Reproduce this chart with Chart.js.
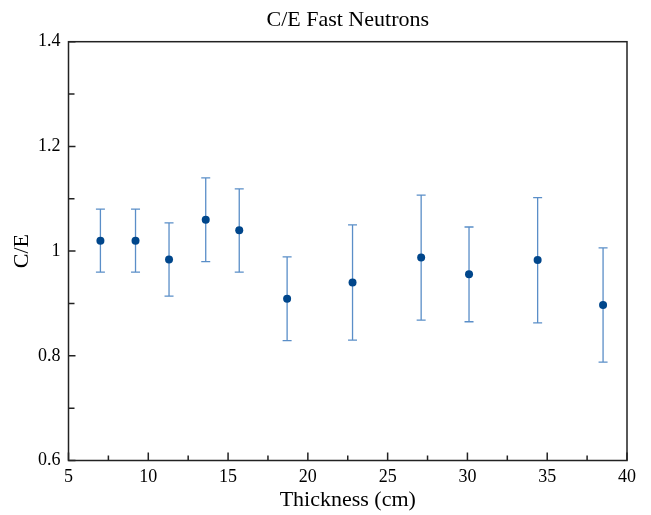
<!DOCTYPE html>
<html>
<head>
<meta charset="utf-8">
<script src="https://cdn.jsdelivr.net/npm/chart.js@4"></script>
<style>
  html, body { margin: 0; padding: 0; background: #fff; }
  #wrap { width: 651px; height: 515px; }
</style>
</head>
<body>
<div id="wrap"><canvas id="ceChart" width="651" height="515"></canvas></div>
<script>
// values
const thickness = [7.0, 9.2, 11.3, 13.6, 15.7, 18.7, 22.8, 27.1, 30.1, 34.4, 38.5];
const ceRatio   = [1.02, 1.02, 0.984, 1.06, 1.04, 0.909, 0.94, 0.988, 0.956, 0.983, 0.897];
const ceUpper   = [1.08, 1.08, 1.054, 1.14, 1.119, 0.989, 1.05, 1.107, 1.046, 1.102, 1.006];
const ceLower   = [0.96, 0.96, 0.914, 0.98, 0.96, 0.829, 0.83, 0.868, 0.865, 0.863, 0.788];

const xMajor = [5, 10, 15, 20, 25, 30, 35, 40];
const xMinor = [7.5, 12.5, 17.5, 22.5, 27.5, 32.5, 37.5];
const yMajor = [0.6, 0.8, 1.0, 1.2, 1.4];
const yMinor = [0.7, 0.9, 1.1, 1.3];

const serif = "'Liberation Serif', 'Times New Roman', serif";

// error bars, drawn under the points
const errorBars = {
    id: 'errorBars',
    beforeDatasetsDraw(chart) {
        const {ctx, scales: {x, y}} = chart;
        ctx.save();
        ctx.strokeStyle = '#5a8ec8';
        ctx.lineWidth = 1.3;
        thickness.forEach((t, i) => {
            const px = x.getPixelForValue(t);
            const top = y.getPixelForValue(ceUpper[i]);
            const bot = y.getPixelForValue(ceLower[i]);
            ctx.beginPath();
            ctx.moveTo(px, top); ctx.lineTo(px, bot);
            ctx.moveTo(px - 4.5, top); ctx.lineTo(px + 4.5, top);
            ctx.moveTo(px - 4.5, bot); ctx.lineTo(px + 4.5, bot);
            ctx.stroke();
        });
        ctx.restore();
    }
};

// frame + inward ticks
const frameTicks = {
    id: 'frameTicks',
    afterDraw(chart) {
        const {ctx, chartArea: a, scales: {x, y}} = chart;
        ctx.save();
        ctx.strokeStyle = '#222';
        ctx.lineWidth = 1.5;
        ctx.strokeRect(a.left, a.top, a.right - a.left, a.bottom - a.top);
        ctx.beginPath();
        xMajor.forEach(v => { const p = x.getPixelForValue(v); ctx.moveTo(p, a.bottom); ctx.lineTo(p, a.bottom - 8); });
        xMinor.forEach(v => { const p = x.getPixelForValue(v); ctx.moveTo(p, a.bottom); ctx.lineTo(p, a.bottom - 5); });
        yMajor.forEach(v => { const p = y.getPixelForValue(v); ctx.moveTo(a.left, p); ctx.lineTo(a.left + 7, p); });
        yMinor.forEach(v => { const p = y.getPixelForValue(v); ctx.moveTo(a.left, p); ctx.lineTo(a.left + 6, p); });
        ctx.stroke();
        ctx.restore();
    }
};

new Chart(document.getElementById('ceChart'), {
    type: 'scatter',
    data: {
        datasets: [{
            label: 'C/E',
            data: thickness.map((t, i) => ({x: t, y: ceRatio[i]})),
            backgroundColor: '#00468b',
            borderWidth: 0,
            pointRadius: 4,
            pointHoverRadius: 4
        }]
    },
    options: {
        responsive: false,
        animation: false,
        layout: {padding: {left: 0, right: 24, top: 0, bottom: 0}},
        plugins: {
            legend: {display: false},
            tooltip: {enabled: false},
            title: {
                display: true,
                text: 'C/E Fast Neutrons',
                fullSize: false,
                color: '#000',
                font: {family: serif, size: 22, weight: 'normal'},
                padding: {top: 7.3, bottom: 8}
            }
        },
        scales: {
            x: {
                type: 'linear',
                min: 5, max: 40,
                grid: {display: false, drawTicks: false},
                border: {display: false},
                afterFit: s => { s.height = 54.5; },
                ticks: {stepSize: 5, padding: 6, color: '#000', maxRotation: 0,
                        font: {family: serif, size: 18}},
                title: {display: true, text: 'Thickness (cm)', color: '#000',
                        font: {family: serif, size: 22}, padding: {top: 0, bottom: 1.5}}
            },
            y: {
                type: 'linear',
                min: 0.6, max: 1.4,
                grid: {display: false, drawTicks: false},
                border: {display: false},
                afterFit: s => { s.width = 68.5; },
                ticks: {stepSize: 0.2, padding: 8, color: '#000',
                        font: {family: serif, size: 18},
                        callback: v => String(+v.toFixed(1))},
                title: {display: true, text: 'C/E', color: '#000',
                        font: {family: serif, size: 22}, padding: {top: 9.3, bottom: 0}}
            }
        }
    },
    plugins: [errorBars, frameTicks]
});
</script>
</body>
</html>
